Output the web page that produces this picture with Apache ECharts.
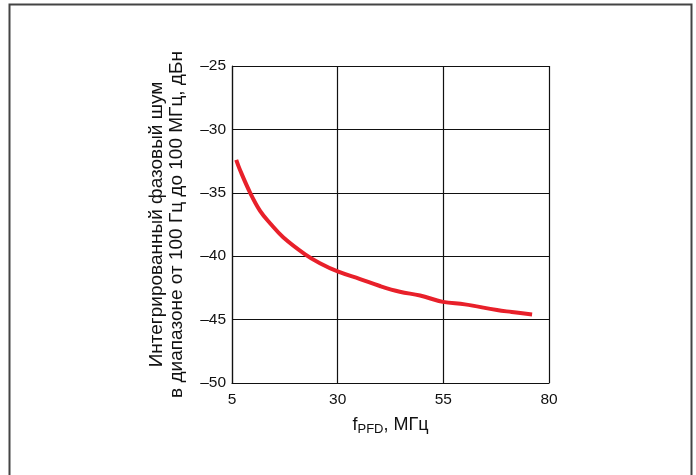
<!DOCTYPE html>
<html>
<head>
<meta charset="utf-8">
<script src="https://cdn.jsdelivr.net/npm/echarts@6/dist/echarts.min.js"></script>
<style>
  html, body { margin: 0; padding: 0; background: #fff; }
  #chart { width: 696px; height: 475px; }
</style>
</head>
<body>
<div id="chart"></div>
<script>
// PFD frequency, MHz
const freqMHz = [6, 6.9, 9.3, 11.6, 14, 17.1, 22.3, 25.8, 30, 35.3, 40, 44.7, 49.5, 54.9, 60.1, 67.7, 71.2, 76];
// Integrated phase noise, dBc
const noiseDbc = [-32.4, -33.2, -35.0, -36.4, -37.4, -38.5, -39.85, -40.55, -41.2, -41.8, -42.35, -42.8, -43.1, -43.6, -43.8, -44.25, -44.4, -44.6];
// Axis ticks
const xTicks = [5, 30, 55, 80];
const yTicks = [-50, -45, -40, -35, -30, -25];

const FONT = '"Liberation Sans", Arial, sans-serif';
const minus = v => String(v).replace('-', '\u2013');

const chart = echarts.init(document.getElementById('chart'), null, { renderer: 'canvas' });
chart.setOption({
  animation: false,
  backgroundColor: '#fff',
  textStyle: { fontFamily: FONT, color: '#111' },
  graphic: [{
    type: 'rect',
    shape: { x: 9.5, y: 4.5, width: 682, height: 500 },
    style: { fill: 'none', stroke: '#444', lineWidth: 2 },
    silent: true
  }],
  grid: { left: 232, top: 66, right: 147, bottom: 92 },
  xAxis: {
    type: 'value',
    min: xTicks[0], max: xTicks[xTicks.length - 1], interval: 25,
    axisLine: { lineStyle: { color: '#111', width: 1.2 } },
    axisTick: { show: false },
    splitLine: { show: true, lineStyle: { color: '#111', width: 1.2 } },
    axisLabel: { fontSize: 15.5, color: '#111', margin: 9, fontFamily: FONT },
    name: '{f|f}{s|PFD}{f|, МГц}',
    nameLocation: 'middle',
    nameGap: 31,
    nameTextStyle: {
      rich: {
        f: { fontSize: 18, color: '#111', fontFamily: FONT },
        s: { fontSize: 13, color: '#111', fontFamily: FONT, verticalAlign: 'bottom', padding: [9, 0, 0, 0] }
      }
    }
  },
  yAxis: {
    type: 'value',
    min: yTicks[0], max: yTicks[yTicks.length - 1], interval: 5,
    axisLine: { show: true, lineStyle: { color: '#111', width: 1.2 } },
    axisTick: { show: false },
    splitLine: { show: true, lineStyle: { color: '#111', width: 1.2 } },
    axisLabel: { fontSize: 15.5, color: '#111', margin: 6, fontFamily: FONT, formatter: minus },
    name: 'Интегрированный фазовый шум\nв диапазоне от 100 Гц до 100 МГц, дБн',
    nameLocation: 'middle',
    nameGap: 45,
    nameTextStyle: { fontSize: 19, color: '#111', fontFamily: FONT, lineHeight: 20 }
  },
  series: [{
    type: 'line',
    data: freqMHz.map((f, i) => [f, noiseDbc[i]]),
    smooth: 0.4,
    showSymbol: false,
    lineStyle: { color: '#e8202a', width: 4 },
    silent: true
  }]
});
</script>
</body>
</html>
